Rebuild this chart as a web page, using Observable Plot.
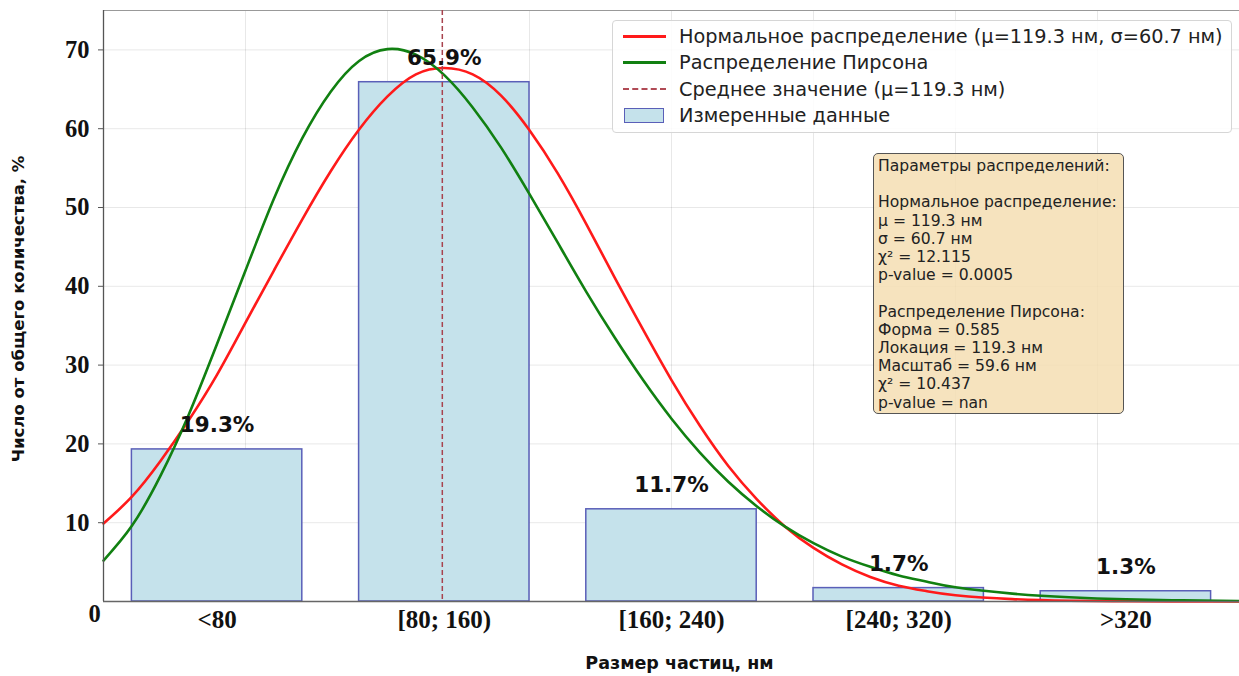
<!DOCTYPE html>
<html>
<head>
<meta charset="utf-8">
<script src="https://cdn.jsdelivr.net/npm/d3@7"></script>
<script src="https://cdn.jsdelivr.net/npm/@observablehq/plot@0.6"></script>
<style>
  html, body { margin: 0; padding: 0; background: #fff; }
  #wrap { position: relative; width: 1239px; height: 676px; overflow: hidden; }
  #legend { position: absolute; left: 612px; top: 20px; width: 620px; height: 113px;
    border: 1px solid #d6d6d6; border-radius: 4px; background: rgba(255,255,255,0.85);
    font-family: "DejaVu Sans", sans-serif; font-size: 19.3px; color: #222; box-sizing: border-box; }
  .lg { position: absolute; left: 0; height: 26px; display: flex; align-items: center; }
  .lg .sw { position: absolute; left: 10px; width: 43px; }
  .lg .tx { position: absolute; left: 66px; white-space: nowrap; }
  #params { position: absolute; left: 873px; top: 153px; width: 251px; height: 261px;
    border: 1.5px solid #555; border-radius: 5px; background: rgba(245,222,179,0.85);
    font-family: "DejaVu Sans", sans-serif; font-size: 15.6px; color: #222; box-sizing: border-box;
    padding: 3px 0 0 4px; line-height: 18.2px; white-space: pre; }
</style>
</head>
<body>
<div id="wrap"></div>
<script>
// ---- data ----
const categories = ["<80", "[80; 160)", "[160; 240)", "[240; 320)", ">320"];
const binCenters = [40, 120, 200, 280, 360];          // nm
const binWidth = 60;                                   // nm
const percents = [19.3, 65.9, 11.7, 1.7, 1.3];
const percentLabels = ["19.3%", "65.9%", "11.7%", "1.7%", "1.3%"];

const curveX = [0,10,20,30,40,50,60,70,80,90,100,110,120,130,140,150,160,170,180,190,200,
  210,220,230,240,250,260,270,280,290,300,320,340,360,380,400];
const normalY = [9.9,13.3,17.8,23.0,28.8,35.4,42.0,48.5,54.6,59.9,64.1,66.9,67.7,66.9,64.2,59.8,
  54.3,47.9,41.1,34.5,28.1,22.3,17.2,13.0,9.5,6.8,4.7,3.1,2.0,1.3,0.8,0.3,0.1,0.04,0.01,0.0];
const pearsonY = [5.2,9.6,15.9,23.7,32.7,42.0,51.1,58.8,64.7,68.6,70.1,69.4,66.8,62.7,57.6,51.7,
  45.5,39.3,33.5,28.1,23.2,18.9,15.2,12.1,9.5,7.4,5.7,4.4,3.3,2.5,1.8,1.0,0.54,0.28,0.14,0.07];

const meanValue = 119.3;
const yTicks = [10, 20, 30, 40, 50, 60, 70];
const xGrid = [50, 100, 150, 200, 250, 300, 350];

const legendItems = [
  {label: "Нормальное распределение (μ=119.3 нм, σ=60.7 нм)", kind: "red"},
  {label: "Распределение Пирсона", kind: "green"},
  {label: "Среднее значение (μ=119.3 нм)", kind: "mean"},
  {label: "Измеренные данные", kind: "bar"}
];
const paramsText = [
  "Параметры распределений:",
  "",
  "Нормальное распределение:",
  "μ = 119.3 нм",
  "σ = 60.7 нм",
  "χ² = 12.115",
  "p-value = 0.0005",
  "",
  "Распределение Пирсона:",
  "Форма = 0.585",
  "Локация = 119.3 нм",
  "Масштаб = 59.6 нм",
  "χ² = 10.437",
  "p-value = nan"
];

// ---- build tables ----
const bars = binCenters.map((c, i) => ({x1: c - binWidth / 2, x2: c + binWidth / 2, y: percents[i], c, label: percentLabels[i]}));
const normal = curveX.map((x, i) => ({x, y: normalY[i]}));
const pearson = curveX.map((x, i) => ({x, y: pearsonY[i]}));

const serif = "'Liberation Serif', 'Times New Roman', serif";
const sans = "'DejaVu Sans', sans-serif";

const chart = Plot.plot({
  width: 1239,
  height: 676,
  marginLeft: 103,
  marginRight: 0,
  marginTop: 10,
  marginBottom: 75,
  x: {domain: [0, 400]},
  y: {domain: [0, 75]},
  style: {background: "white"},
  marks: [
    Plot.gridX({ticks: xGrid, stroke: "#000", strokeOpacity: 0.09, strokeWidth: 1}),
    Plot.gridY({ticks: yTicks, stroke: "#000", strokeOpacity: 0.09, strokeWidth: 1}),
    Plot.ruleY([75], {stroke: "#999", strokeWidth: 1.2}),
    Plot.rectY(bars, {x1: "x1", x2: "x2", y: "y", fill: "#c5e2eb", stroke: "#5a5fb8", strokeWidth: 1.5}),
    Plot.line(normal, {x: "x", y: "y", stroke: "#ff1a1a", strokeWidth: 2.6, curve: "natural"}),
    Plot.line(pearson, {x: "x", y: "y", stroke: "#118011", strokeWidth: 2.6, curve: "natural"}),
    Plot.ruleX([meanValue], {stroke: "#a8434e", strokeWidth: 1.5, strokeDasharray: "5,3"}),
    Plot.text(bars, {x: "c", y: "y", text: "label", dy: -24, fontFamily: sans, fontWeight: "bold", fontSize: 21.5, fill: "#111"}),
    Plot.ruleX([0], {stroke: "#555", strokeWidth: 1.3}),
    Plot.ruleY([0], {stroke: "#666", strokeWidth: 1.3}),
    Plot.axisY({ticks: yTicks, tickSize: 5, tickPadding: 9, stroke: "#555", label: null,
      fontFamily: serif, fontWeight: "bold", fontSize: 24.5, fill: "#111"}),
    Plot.axisX({ticks: binCenters, tickFormat: (d) => categories[binCenters.indexOf(d)], tickSize: 0, tickPadding: 9, label: null,
      fontFamily: serif, fontWeight: "bold", fontSize: 25, fill: "#111"}),
    Plot.text([0], {x: 0, y: 0, text: () => "0", dx: -9, dy: 13, fontFamily: serif, fontWeight: "bold", fontSize: 24.5, fill: "#111"}),
    Plot.text(["Размер частиц, нм"], {frameAnchor: "bottom", dx: 8, dy: 67, text: d => d, fontFamily: sans, fontWeight: "bold", fontSize: 17.5, fill: "#111"}),
    Plot.text(["Число от общего количества, %"], {frameAnchor: "left", textAnchor: "middle", dx: -85, dy: 3, rotate: -90, text: d => d, fontFamily: sans, fontWeight: "bold", fontSize: 16.5, fill: "#111"})
  ]
});

const wrap = document.getElementById("wrap");
wrap.appendChild(chart);

// legend (overlay)
const legend = document.createElement("div");
legend.id = "legend";
legendItems.forEach((it, i) => {
  const row = document.createElement("div");
  row.className = "lg";
  row.style.top = (2 + i * 26.5) + "px";
  row.style.width = "100%";
  const sw = document.createElement("div");
  sw.className = "sw";
  if (it.kind === "red") { sw.style.borderTop = "3px solid #ff1a1a"; }
  else if (it.kind === "green") { sw.style.borderTop = "3px solid #118011"; }
  else if (it.kind === "mean") { sw.style.height = "0"; sw.style.borderTop = "2px dashed #b04a55"; }
  else { sw.style.height = "15px"; sw.style.width = "40px"; sw.style.left = "11px"; sw.style.background = "#c5e2eb"; sw.style.border = "1.5px solid #5a5fb8"; sw.style.boxSizing = "border-box"; }
  const tx = document.createElement("div");
  tx.className = "tx";
  tx.textContent = it.label;
  row.appendChild(sw); row.appendChild(tx);
  legend.appendChild(row);
});
wrap.appendChild(legend);

const params = document.createElement("div");
params.id = "params";
params.textContent = paramsText.join("\n");
wrap.appendChild(params);
</script>
</body>
</html>
